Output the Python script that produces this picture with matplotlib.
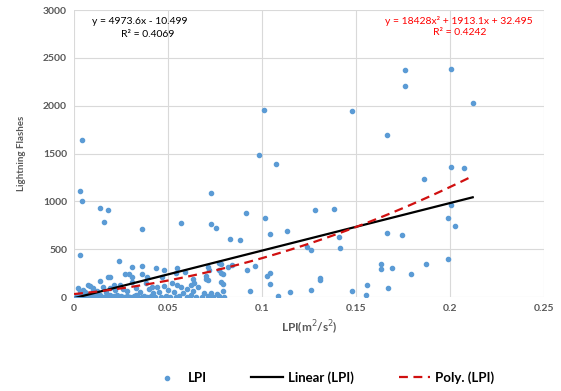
import numpy as np
import matplotlib.pyplot as plt
plt.switch_backend('agg')

plt.rcParams['font.family'] = ['Lato', 'DejaVu Sans']

# LPI vs lightning flash counts
lpi = [
    # high-count cases
    0.004, 0.003, 0.004, 0.003, 0.014, 0.018, 0.016, 0.036, 0.024, 0.057,
    0.073, 0.073, 0.0755, 0.0915, 0.083, 0.088, 0.0985, 0.1075, 0.101, 0.1015,
    0.104, 0.113, 0.128, 0.138, 0.124, 0.126, 0.141, 0.1415, 0.148, 0.1665,
    0.176, 0.176, 0.2005, 0.212, 0.186, 0.2005, 0.2075, 0.199, 0.2005, 0.2027,
    # right side, low counts
    0.092, 0.096, 0.1027, 0.104, 0.104, 0.0936, 0.1085, 0.115, 0.126, 0.131,
    0.131, 0.148, 0.155, 0.156, 0.163, 0.163, 0.167, 0.169, 0.1665, 0.1745,
    0.179, 0.187, 0.199,
    # middle tier
    0.031, 0.036, 0.0435, 0.048, 0.055, 0.027, 0.029, 0.036, 0.018, 0.019,
    0.031, 0.039, 0.047, 0.054, 0.059, 0.063, 0.064, 0.071, 0.078, 0.072,
    0.077, 0.078, 0.079, 0.082, 0.084, 0.077, 0.070, 0.070, 0.071, 0.078,
    0.079, 0.014, 0.0075, 0.0085,
    # lower tier
    0.002, 0.005, 0.010, 0.010, 0.0155, 0.021, 0.0245, 0.012, 0.017, 0.022,
    0.026, 0.028, 0.031, 0.038, 0.0415, 0.044, 0.048, 0.052, 0.035, 0.042,
    0.045, 0.055, 0.057, 0.060, 0.062, 0.066, 0.058, 0.063, 0.069, 0.073,
    0.076, 0.079, 0.050, 0.053, 0.040, 0.033, 0.019, 0.006, 0.008, 0.003,
    # near zero
    0.001, 0.002, 0.003, 0.004, 0.005, 0.006, 0.007, 0.008, 0.009, 0.010,
    0.011, 0.012, 0.013, 0.014, 0.015, 0.016, 0.017, 0.018, 0.019, 0.020,
    0.021, 0.022, 0.023, 0.024, 0.025, 0.026, 0.027, 0.028, 0.029, 0.030,
    0.032, 0.033, 0.034, 0.036, 0.037, 0.039, 0.041, 0.043, 0.046, 0.049,
    0.051, 0.054, 0.056, 0.060, 0.062, 0.065, 0.068, 0.071, 0.074, 0.077,
    0.080,
]
flashes = [
    1640, 1110, 1000, 440, 930, 910, 790, 710, 380, 770,
    1090, 760, 725, 880, 610, 600, 1490, 1390, 1960, 830,
    660, 690, 910, 920, 520, 490, 630, 510, 1950, 1690,
    2370, 2210, 2380, 2030, 1230, 1360, 1350, 830, 960, 740,
    280, 330, 220, 250, 140, 60, 10, 50, 70, 180,
    200, 60, 20, 130, 290, 350, 100, 300, 670, 650,
    240, 350, 400,
    320, 330, 305, 280, 305, 240, 240, 240, 210, 210,
    210, 210, 210, 250, 260, 190, 150, 320, 345, 285,
    280, 250, 240, 320, 335, 360, 220, 190, 180, 160,
    140, 170, 125, 115,
    95, 75, 95, 75, 105, 125, 125, 60, 55, 70,
    85, 60, 160, 145, 105, 105, 115, 145, 55, 40,
    50, 130, 110, 90, 130, 110, 45, 60, 40, 40,
    30, 60, 70, 50, 85, 95, 100, 50, 30, 60,
    5, 10, 0, 20, 5, 15, 0, 10, 25, 5,
    15, 0, 10, 20, 5, 0, 15, 5, 25, 0,
    10, 5, 20, 0, 10, 5, 0, 15, 5, 0,
    10, 20, 0, 5, 15, 0, 10, 5, 0, 15,
    5, 0, 10, 0, 20, 5, 0, 10, 0, 15,
    5,
]

# trendline coefficients
lin_a, lin_b = 4973.6, -10.499
poly_a, poly_b, poly_c = 18428, 1913.1, 32.495

fig = plt.figure(figsize=(5.61, 3.91), dpi=100)
ax = fig.add_axes([0.132, 0.240, 0.838, 0.734])

ax.scatter(lpi, flashes, s=9, color='#5b9bd5', zorder=3, label='LPI')

xs = np.linspace(0.0, max(lpi), 100)
ax.plot(xs, lin_a * xs + lin_b, color='black', lw=1.6, zorder=4, label='Linear (LPI)')
ax.plot(xs, poly_a * xs**2 + poly_b * xs + poly_c, color='#d01010', lw=1.6,
        ls=(0, (4, 2.5)), zorder=4, label='Poly. (LPI)')

ax.set_xlim(0, 0.25)
ax.set_ylim(0, 3000)
ax.set_xticks([0, 0.05, 0.1, 0.15, 0.2, 0.25])
ax.set_xticklabels(['0', '0.05', '0.1', '0.15', '0.2', '0.25'])
ax.set_yticks(range(0, 3001, 500))
ax.grid(True, color='#d9d9d9', lw=0.8)
ax.set_axisbelow(True)
for s in ax.spines.values():
    s.set_visible(False)
ax.tick_params(length=0, labelsize=7.5, labelcolor='#595959', pad=5)
for lbl in ax.get_xticklabels() + ax.get_yticklabels():
    lbl.set_fontweight('bold')

ax.set_xlabel('LPI(m$^2$/s$^2$)', fontsize=8.5, fontweight='bold', color='#595959', labelpad=4)
ax.set_ylabel('Lightning Flashes', fontsize=7, fontweight='bold', color='#595959', labelpad=12)

ax.text(0.035, 2880, 'y = 4973.6x - 10.499', fontsize=7.5, ha='center', va='center')
ax.text(0.039, 2750, 'R² = 0.4069', fontsize=7.5, ha='center', va='center')
ax.text(0.2045, 2890, 'y = 18428x² + 1913.1x + 32.495', fontsize=7.5, color='#ff0000',
        ha='center', va='center')
ax.text(0.205, 2765, 'R² = 0.4242', fontsize=7.5, color='#ff0000', ha='center', va='center')

leg = fig.legend(loc='center', bbox_to_anchor=(0.575, 0.035), ncol=3, frameon=False,
                 fontsize=9.5, columnspacing=3.4, handlelength=2.4, handletextpad=0.35,
                 markerscale=1.0)
for t in leg.get_texts():
    t.set_fontweight('bold')

plt.savefig('out.png', dpi=100)
